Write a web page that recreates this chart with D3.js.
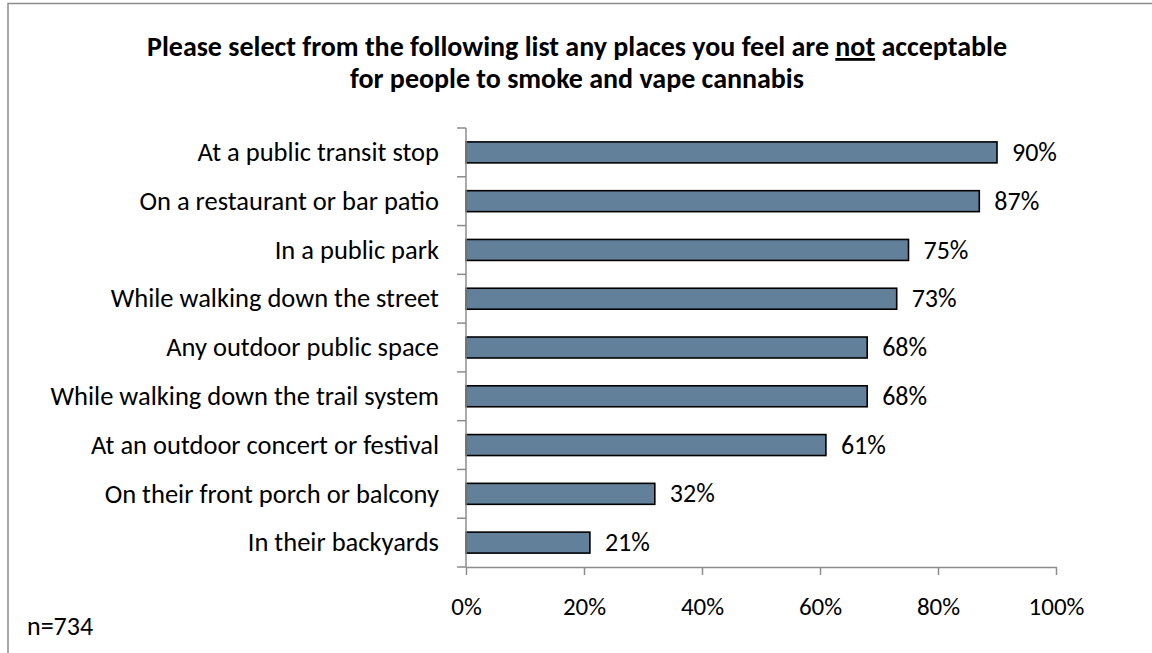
<!DOCTYPE html>
<html>
<head>
<meta charset="utf-8">
<script src="https://cdn.jsdelivr.net/npm/d3@7"></script>
<style>
  html, body { margin: 0; padding: 0; background: #fff; }
  svg { display: block; }
  text { font-family: Carlito, Lato, "Open Sans", sans-serif; fill: #000; }
</style>
</head>
<body>
<svg id="chart" width="1152" height="653"></svg>
<script>
// Survey responses: places where smoking/vaping cannabis is considered not acceptable
const categories = [
  "At a public transit stop",
  "On a restaurant or bar patio",
  "In a public park",
  "While walking down the street",
  "Any outdoor public space",
  "While walking down the trail system",
  "At an outdoor concert or festival",
  "On their front porch or balcony",
  "In their backyards"
];
const values = [0.90, 0.87, 0.75, 0.73, 0.68, 0.68, 0.61, 0.32, 0.21];
const tickValues = [0, 0.2, 0.4, 0.6, 0.8, 1.0];
const sampleNote = "n=734";

const svg = d3.select("#chart");
const W = 1152, H = 653;

// outer frame
svg.append("rect")
  .attr("x", 8).attr("y", 3.5)
  .attr("width", W + 10).attr("height", H + 10)
  .attr("fill", "none").attr("stroke", "#8c8c8c").attr("stroke-width", 1.5);

// title (two lines, "not" underlined)
const title = svg.append("text")
  .attr("text-anchor", "middle")
  .attr("font-weight", "bold")
  .attr("font-size", 28);
const l1 = title.append("tspan").attr("x", 577).attr("y", 56);
l1.append("tspan").text("Please select from the following list any places you feel are ");
l1.append("tspan").attr("text-decoration", "underline").text("not");
l1.append("tspan").text(" acceptable");
title.append("tspan").attr("x", 577).attr("y", 88).text("for people to smoke and vape cannabis");

const x = d3.scaleLinear().domain([0, 1]).range([466, 1056]);
const y = d3.scaleBand().domain(categories).range([128, 567])
  .paddingInner(0.57).paddingOuter(0.285);

const axisColor = "#8c8c8c";

// bars
svg.append("g").selectAll("rect").data(values).join("rect")
  .attr("x", x(0))
  .attr("y", (d, i) => y(categories[i]))
  .attr("width", d => x(d) - x(0))
  .attr("height", y.bandwidth())
  .attr("fill", "#62809a")
  .attr("stroke", "#000")
  .attr("stroke-width", 1.6);

// x axis
const xAxis = svg.append("g")
  .attr("transform", `translate(0,567)`)
  .call(d3.axisBottom(x).tickValues(tickValues).tickSize(8).tickSizeOuter(0)
    .tickFormat(d3.format(".0%")));
xAxis.select(".domain").attr("stroke", axisColor).attr("stroke-width", 1.5);
xAxis.selectAll(".tick line").attr("stroke", axisColor).attr("stroke-width", 1.5);
xAxis.selectAll(".tick text")
  .attr("font-family", "Carlito, Lato, 'Open Sans', sans-serif")
  .attr("font-size", 25).attr("fill", "#000")
  .attr("y", 0).attr("dy", 0)
  .attr("transform", "translate(0,48)");

// y axis: line with ticks at band boundaries
const yAxis = svg.append("g");
yAxis.append("line")
  .attr("x1", x(0)).attr("x2", x(0))
  .attr("y1", y.range()[0]).attr("y2", y.range()[1])
  .attr("stroke", axisColor).attr("stroke-width", 1.5);
const boundaries = d3.range(categories.length + 1).map(i => y.range()[0] + i * y.step());
yAxis.selectAll("line.tick").data(boundaries).join("line")
  .attr("class", "tick")
  .attr("x1", x(0) - 9).attr("x2", x(0))
  .attr("y1", d => d).attr("y2", d => d)
  .attr("stroke", axisColor).attr("stroke-width", 1.5);

// category labels
svg.append("g").selectAll("text").data(categories).join("text")
  .attr("x", x(0) - 27)
  .attr("y", d => y(d) + y.bandwidth() / 2)
  .attr("dy", "0.33em")
  .attr("text-anchor", "end")
  .attr("font-size", 26.5)
  .text(d => d);

// value labels
svg.append("g").selectAll("text").data(values).join("text")
  .attr("x", d => x(d) + 15)
  .attr("y", (d, i) => y(categories[i]) + y.bandwidth() / 2)
  .attr("dy", "0.33em")
  .attr("font-size", 26)
  .text(d => d3.format(".0%")(d));

// sample size note
svg.append("text")
  .attr("x", 27).attr("y", 635)
  .attr("font-size", 26)
  .text(sampleNote);
</script>
</body>
</html>
